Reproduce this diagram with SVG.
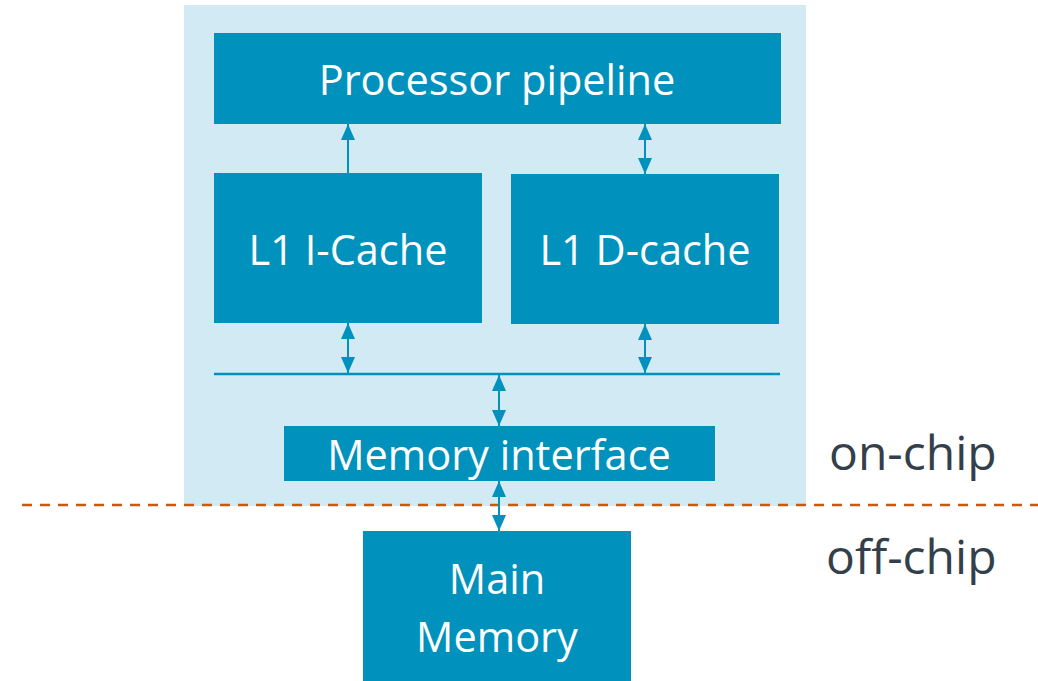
<svg xmlns="http://www.w3.org/2000/svg" width="1038" height="681" viewBox="0 0 1038 681">
<style>
.box{fill:#0092BC}
.lbl{font-family:"Open Sans","Liberation Sans",sans-serif;fill:#fff;text-anchor:middle;font-size:41.5px}
.side{font-family:"Open Sans","Liberation Sans",sans-serif;fill:#333F4B;font-size:48px}
.con{stroke:#0092BC;stroke-width:2;fill:none}
</style>
<defs>
<marker id="ah" viewBox="0 0 16 14" refX="16" refY="7" markerWidth="16" markerHeight="14" markerUnits="userSpaceOnUse" orient="auto-start-reverse">
<path d="M0,0 L16,7 L0,14 Z" fill="#0092BC"/>
</marker>
</defs>
<rect x="184" y="5" width="622" height="501" fill="#D2EAF3"/>
<line x1="22" y1="505" x2="1038" y2="505" stroke="#C55A11" stroke-width="2.5" stroke-dasharray="10,8"/>
<g id="pipeline">
<rect class="box" x="214" y="33" width="567" height="91"/>
<text class="lbl" x="497" y="95">Processor pipeline</text>
</g>
<g id="icache">
<rect class="box" x="214" y="173" width="268" height="150"/>
<text class="lbl" x="348" y="265">L1 I-Cache</text>
</g>
<g id="dcache">
<rect class="box" x="511" y="174" width="268" height="150"/>
<text class="lbl" x="645" y="265">L1 D-cache</text>
</g>
<g id="meminterface">
<rect class="box" x="284" y="426" width="431" height="55"/>
<text class="lbl" x="499" y="470">Memory interface</text>
</g>
<g id="mainmemory">
<rect class="box" x="363" y="531" width="268" height="150"/>
<text class="lbl" x="497" y="594">Main</text>
<text class="lbl" x="497" y="652">Memory</text>
</g>
<g id="labels">
<text class="side" x="829" y="470">on-chip</text>
<text class="side" x="826" y="574">off-chip</text>
</g>
<g id="connectors">
<line x1="214" y1="374" x2="780" y2="374" stroke="#0092BC" stroke-width="2.5"/>
<line class="con" x1="348" y1="173" x2="348" y2="124" marker-end="url(#ah)"/>
<line class="con" x1="645" y1="124" x2="645" y2="174" marker-start="url(#ah)" marker-end="url(#ah)"/>
<line class="con" x1="348" y1="323" x2="348" y2="373" marker-start="url(#ah)" marker-end="url(#ah)"/>
<line class="con" x1="645" y1="324" x2="645" y2="373" marker-start="url(#ah)" marker-end="url(#ah)"/>
<line class="con" x1="499" y1="375" x2="499" y2="426" marker-start="url(#ah)" marker-end="url(#ah)"/>
<line class="con" x1="499" y1="481" x2="499" y2="531" marker-start="url(#ah)" marker-end="url(#ah)"/>
</g>
</svg>
